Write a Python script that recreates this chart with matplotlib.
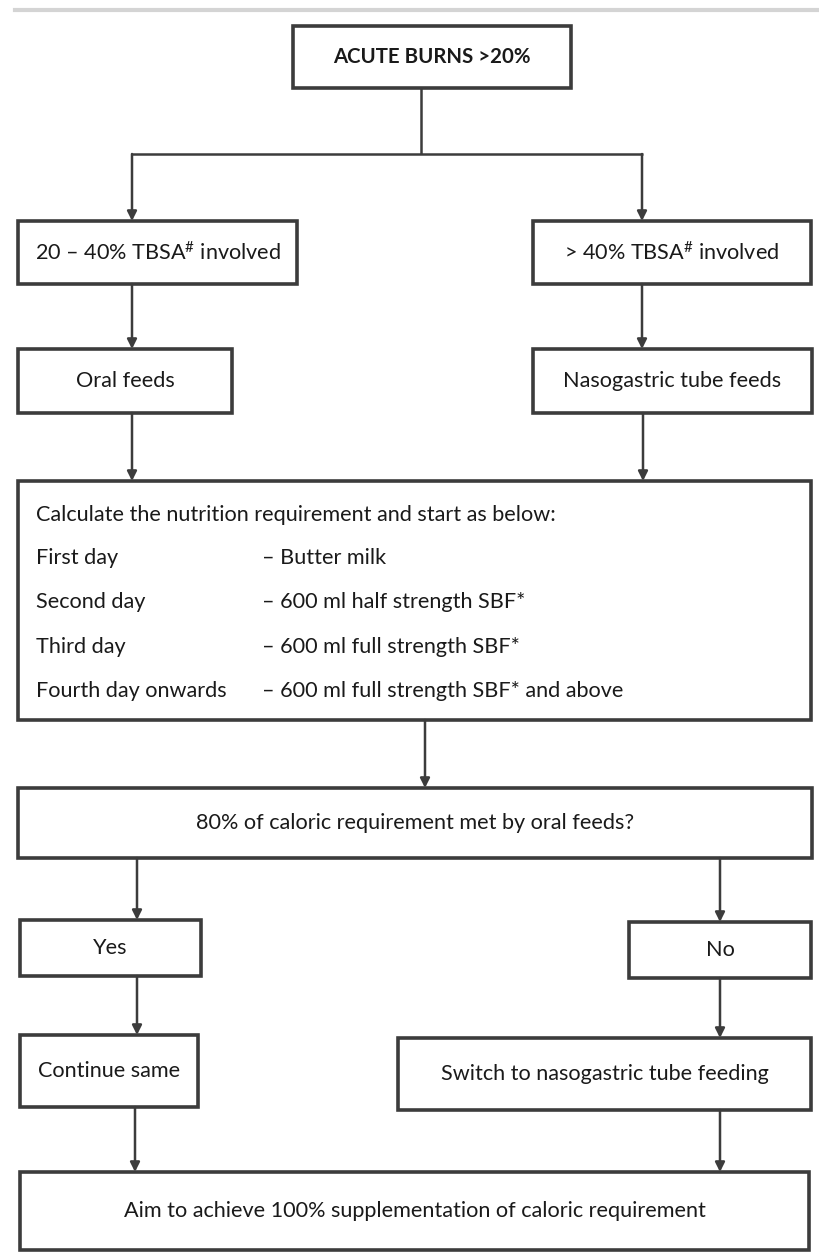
import matplotlib
matplotlib.use("Agg")
import matplotlib.pyplot as plt
from matplotlib.patches import Rectangle

plt.rcParams['font.family'] = ['Lato', 'DejaVu Sans']
plt.rcParams['mathtext.fontset'] = 'custom'
plt.rcParams['mathtext.rm'] = 'Lato'
plt.rcParams['mathtext.default'] = 'regular'

# flowchart text
title = "ACUTE BURNS >20%"
branch_labels = [r"20 – 40% TBSA$^{\#}$ involved", r"> 40% TBSA$^{\#}$ involved"]
feed_labels = ["Oral feeds", "Nasogastric tube feeds"]
plan_header = "Calculate the nutrition requirement and start as below:"
plan_days = ["First day", "Second day", "Third day", "Fourth day onwards"]
plan_feeds = ["– Butter milk", "– 600 ml half strength SBF*",
              "– 600 ml full strength SBF*", "– 600 ml full strength SBF* and above"]
question = "80% of caloric requirement met by oral feeds?"
answers = ["Yes", "No"]
actions = ["Continue same", "Switch to nasogastric tube feeding"]
goal = "Aim to achieve 100% supplementation of caloric requirement"

EDGE = '#3c3c3c'
TXT = '#1a1a1a'
FS = 15.6

fig = plt.figure(figsize=(8.19, 12.54), dpi=100)
ax = fig.add_axes([0, 0, 1, 1])
ax.set_xlim(0, 819)
ax.set_ylim(1254, 0)
ax.axis('off')


def box(x0, y0, x1, y1, text=None, size=FS, weight='normal'):
    ax.add_patch(Rectangle((x0, y0), x1 - x0, y1 - y0, fill=False,
                           edgecolor=EDGE, lw=2.6))
    if text:
        ax.text((x0 + x1) / 2, (y0 + y1) / 2, text, ha='center', va='center',
                fontsize=size, color=TXT, weight=weight)


def arrow(x, y0, y1):
    ax.annotate('', xy=(x, y1), xytext=(x, y0),
                arrowprops=dict(arrowstyle='-|>', lw=1.8, color=EDGE,
                                mutation_scale=14, shrinkA=0, shrinkB=0))


def line(xs, ys):
    ax.plot(xs, ys, color=EDGE, lw=1.8, solid_capstyle='butt')


# faint rule at the top
ax.plot([15, 819], [10, 10], color='#d4d4d4', lw=3)

box(293, 26, 571, 88, title, size=14.7, weight='bold')
line([421, 421], [88, 154])
line([132, 643], [154, 154])
arrow(132, 154, 221)
arrow(642, 154, 221)

box(18, 221, 297, 284, branch_labels[0])
box(533, 221, 811, 284, branch_labels[1])
arrow(132, 284, 349)
arrow(642, 284, 349)

box(18, 349, 232, 413, feed_labels[0])
box(533, 349, 812, 413, feed_labels[1])
arrow(132, 413, 481)
arrow(643, 413, 481)

box(18, 481, 811, 720)
ax.text(36, 515, plan_header, ha='left', va='center', fontsize=FS, color=TXT)
for i, (d, f) in enumerate(zip(plan_days, plan_feeds)):
    y = 558 + i * 44.3
    ax.text(36, y, d, ha='left', va='center', fontsize=FS, color=TXT)
    ax.text(262, y, f, ha='left', va='center', fontsize=FS, color=TXT)
arrow(425, 720, 788)

box(18, 788, 812, 858, question)
arrow(137, 858, 920)
arrow(720, 858, 922)

box(20, 920, 201, 976, answers[0])
box(629, 922, 811, 978, answers[1])
arrow(137, 976, 1035)
arrow(720, 978, 1038)

box(20, 1035, 198, 1107, actions[0])
box(398, 1038, 811, 1110, actions[1])
arrow(135, 1107, 1172)
arrow(720, 1110, 1172)

box(20, 1172, 809, 1250, goal)

fig.savefig("out.png", dpi=100)
